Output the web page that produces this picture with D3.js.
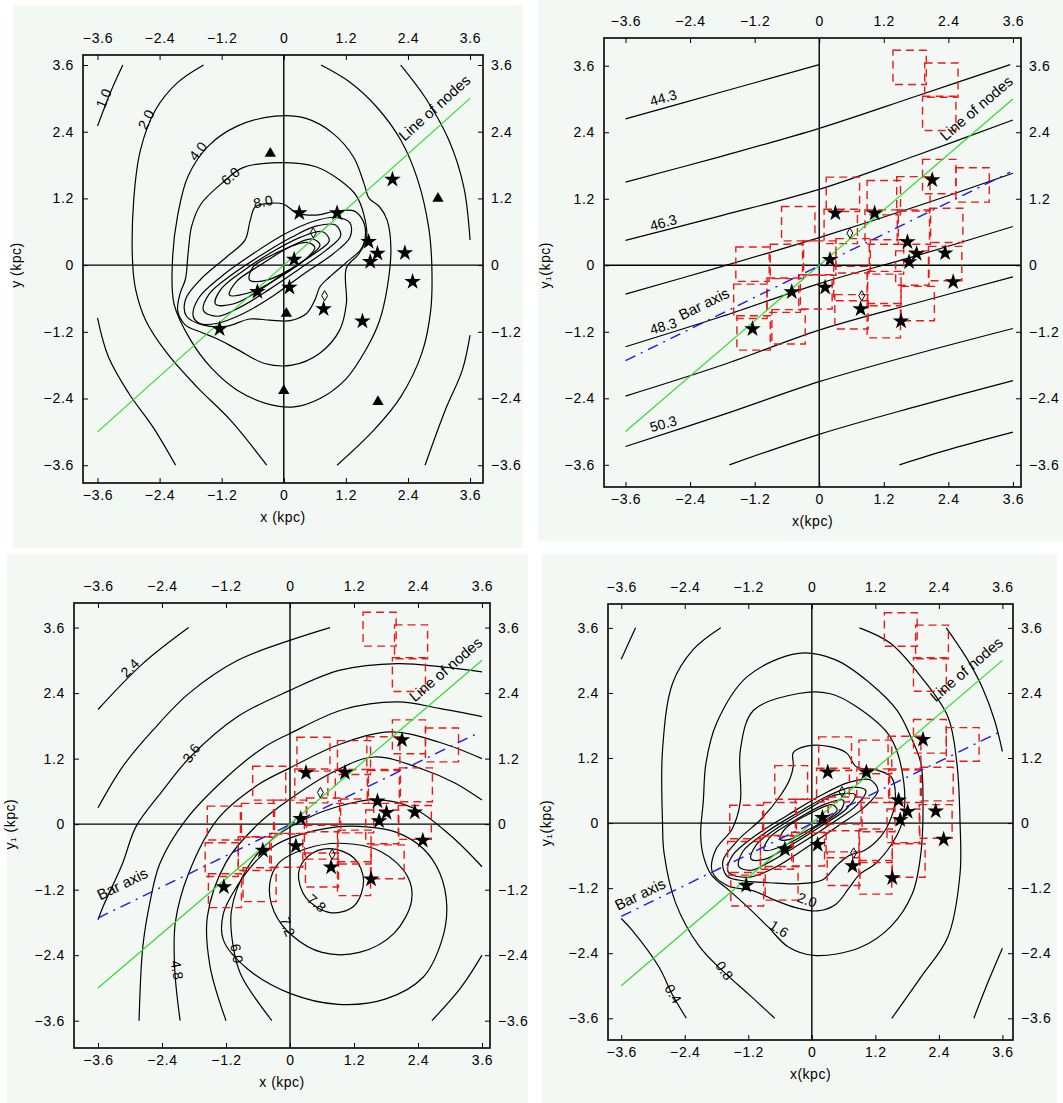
<!DOCTYPE html>
<html>
<head>
<meta charset="utf-8">
<script src="https://cdn.jsdelivr.net/npm/d3@7/dist/d3.min.js"></script>
<style>
  body { margin: 0; background: #fff; }
  svg { display: block; }
  text { font-family: "Liberation Sans", Arial, Helvetica, sans-serif; }
</style>
</head>
<body>
<svg id="chart" width="1063" height="1103"></svg>
<script>
// tick values used on all four sides of every panel
const ticks = [-3.6, -2.4, -1.2, 0, 1.2, 2.4, 3.6]
const tickLabels = ['\u22123.6', '\u22122.4', '\u22121.2', '0', '1.2', '2.4', '3.6']

// line of nodes and bar axis, kpc
const nodesLine = [[-3.6, -3.0], [3.6, 3.0]]
const barAxis = [[-3.6, -1.72], [3.55, 1.68]]

// objects, kpc
const stars = [
  [0.3, 0.94], [1.03, 0.94], [2.1, 1.54], [1.64, 0.42], [1.81, 0.21], [1.67, 0.06],
  [2.34, 0.22], [0.2, 0.1], [2.49, -0.3], [-0.51, -0.48], [0.11, -0.4], [0.77, -0.79],
  [1.52, -1.01], [-1.24, -1.15]
]
const triangles = [[-0.26, 2.01], [2.98, 1.2], [0.05, -0.87], [0.0, -2.26], [1.82, -2.46]]
const diamonds = [[0.57, 0.58], [0.79, -0.55]]

// centres of the dashed boxes, kpc
const boxCentres = [
  [0.44, 1.28], [1.2, 1.22], [2.23, 1.6], [2.85, 1.45], [1.75, 1.29],
  [-0.39, 0.75], [0.4, 0.7], [1.16, 0.69], [1.76, 0.69], [2.36, 0.72],
  [-1.24, 0.02], [-0.6, 0.07], [0.0, 0.13], [0.62, 0.17], [1.26, 0.15], [1.73, -0.05], [2.34, 0.03],
  [-1.28, -0.65], [-0.66, -0.54], [-0.07, -0.48], [0.58, -0.33], [1.21, -0.42], [1.83, -0.69],
  [0.6, -0.84], [1.2, -1.0], [-1.22, -1.22], [-0.57, -1.11],
  [1.68, 3.57], [2.27, 3.34], [2.23, 2.74]
]
const boxSide = 0.62

// panel 1 contours (surface density)
const contours1 = [
  { pts: [[-3.11, 3.6], [-3.33, 3.15], [-3.6, 2.5]] },
  { pts: [[-3.6, -0.95], [-3.39, -1.65], [-3.0, -2.3], [-2.53, -2.91], [-2.09, -3.6]] },
  { pts: [[2.26, 3.6], [2.73, 3.02], [3.19, 2.25], [3.48, 1.4], [3.6, 0.45]] },
  { pts: [[3.6, -1.26], [3.45, -1.89], [3.12, -2.61], [2.73, -3.6]] },
  { pts: [[-1.55, 3.6], [-2.07, 3.27], [-2.48, 2.79], [-2.77, 2.07], [-2.9, 1.17], [-2.92, 0.02], [-2.86, -0.45], [-2.67, -0.99], [-2.26, -1.58], [-1.68, -2.19], [-1.03, -2.79], [-0.33, -3.6]] },
  { pts: [[0.72, 3.6], [1.28, 3.29], [1.8, 2.84], [2.26, 2.25], [2.59, 1.53], [2.8, 0.68], [2.86, 0.02], [2.84, -0.81], [2.67, -1.58], [2.26, -2.37], [1.74, -2.97], [1.03, -3.6]] },
  { closed: true, pts: [[-0.17, 2.68], [0.43, 2.64], [0.95, 2.37], [1.35, 1.94], [1.55, 1.47], [1.65, 1.2], [1.85, 1.05], [2.0, 0.8], [2.07, 0.3], [2.0, -0.4], [1.85, -1.0], [1.6, -1.5], [1.2, -2.05], [0.7, -2.4], [0.2, -2.55], [-0.3, -2.5], [-0.9, -2.25], [-1.4, -1.85], [-1.8, -1.35], [-2.12, -0.7], [-2.15, 0.1], [-2.05, 0.9], [-1.85, 1.6], [-1.45, 2.15], [-0.9, 2.5]] },
  { closed: true, pts: [[-0.23, 1.84], [0.62, 1.77], [1.08, 1.53], [1.4, 1.25], [1.55, 0.9], [1.6, 0.5], [1.45, 0.2], [1.21, -0.05], [1.21, -0.69], [1.08, -1.17], [0.69, -1.59], [0.16, -1.8], [-0.37, -1.77], [-0.89, -1.52], [-1.3, -1.32], [-1.62, -1.2], [-1.9, -1.08], [-2.05, -0.82], [-2.0, -0.5], [-1.9, -0.25], [-1.85, 0.2], [-1.78, 0.7], [-1.6, 1.1], [-1.2, 1.47], [-0.8, 1.75]] },
  { closed: true, pts: [[-0.3, 1.11], [-0.01, 1.1], [0.25, 0.94], [0.63, 0.9], [0.95, 0.96], [1.34, 0.98], [1.5, 0.85], [1.58, 0.6], [1.5, 0.3], [1.21, 0.05], [0.89, -0.21], [0.7, -0.39], [0.6, -0.63], [0.44, -0.87], [0.12, -1.0], [-0.27, -0.99], [-0.66, -0.97], [-1.11, -1.1], [-1.55, -1.08], [-1.88, -0.92], [-1.9, -0.62], [-1.6, -0.25], [-1.1, 0.15], [-0.75, 0.45], [-0.65, 0.8], [-0.55, 1.05]] },
  { closed: true, pts: [[-1.75, -0.92], [-1.65, -0.6], [-1.2, -0.2], [-0.6, 0.2], [0.0, 0.55], [0.55, 0.78], [1.0, 0.86], [1.28, 0.76], [1.28, 0.5], [0.95, 0.2], [0.4, -0.15], [-0.2, -0.55], [-0.8, -0.88], [-1.3, -1.05], [-1.62, -1.05]] },
  { closed: true, pts: [[-1.55, -0.82], [-1.45, -0.53], [-1.0, -0.17], [-0.4, 0.2], [0.15, 0.5], [0.62, 0.7], [1.0, 0.72], [1.1, 0.53], [0.82, 0.27], [0.3, -0.07], [-0.3, -0.45], [-0.85, -0.76], [-1.28, -0.92]] },
  { closed: true, pts: [[-1.32, -0.7], [-1.22, -0.44], [-0.78, -0.1], [-0.2, 0.25], [0.32, 0.5], [0.75, 0.6], [0.88, 0.44], [0.58, 0.2], [0.05, -0.12], [-0.5, -0.47], [-0.98, -0.7]] },
  { closed: true, pts: [[-1.05, -0.54], [-0.92, -0.3], [-0.42, 0.02], [0.12, 0.33], [0.55, 0.47], [0.7, 0.36], [0.44, 0.12], [-0.05, -0.2], [-0.58, -0.47]] },
  { closed: true, pts: [[-0.66, -0.27], [-0.6, -0.04], [-0.14, 0.22], [0.44, 0.41], [0.6, 0.32], [0.46, 0.14], [0.1, -0.09], [-0.33, -0.27]] }
]
const labels1 = [
  { t: '1.0', at: [-3.48, 3.0], rot: -68 }, { t: '2.0', at: [-2.66, 2.62], rot: -62 },
  { t: '4.0', at: [-1.66, 2.05], rot: -52 }, { t: '6.0', at: [-1.03, 1.6], rot: -40 },
  { t: '8.0', at: [-0.4, 1.14], rot: -12 }
]

// panel 2 contours (velocity field)
const contours2 = [
  { pts: [[-3.6, 2.64], [-1.8, 3.13], [0, 3.62]] },
  { pts: [[-3.6, 1.5], [-1.8, 1.97], [0, 2.47], [1.8, 3.05], [3.55, 3.62]] },
  { pts: [[-3.6, 0.45], [-1.8, 0.9], [0, 1.37], [1.8, 1.98], [3.6, 2.62]] },
  { pts: [[-3.6, -0.52], [-1.8, -0.02], [0, 0.5], [1.8, 1.06], [3.6, 1.66]] },
  { pts: [[-3.6, -1.47], [-1.8, -0.92], [0, -0.33], [1.8, 0.17], [3.6, 0.7]] },
  { pts: [[-3.6, -2.36], [-1.8, -1.8], [0, -1.17], [1.8, -0.68], [3.6, -0.21]] },
  { pts: [[-3.6, -3.27], [-1.8, -2.7], [0, -2.1], [1.8, -1.6], [3.6, -1.14]] },
  { pts: [[-1.67, -3.6], [0, -3.05], [1.8, -2.55], [3.6, -2.08]] },
  { pts: [[1.49, -3.6], [2.5, -3.3], [3.6, -3.01]] }
]
const labels2 = [
  { t: '44.3', at: [-2.9, 3.02], rot: -16 }, { t: '46.3', at: [-2.9, 0.77], rot: -16 },
  { t: '48.3', at: [-2.9, -1.1], rot: -16 }, { t: '50.3', at: [-2.9, -2.86], rot: -16 }
]

// panel 3 contours
const contours3 = [
  { pts: [[-3.6, 2.1], [-2.76, 2.94], [-1.9, 3.6]] },
  { pts: [[-3.6, 0.3], [-3.14, 1.05], [-2.57, 1.72], [-1.9, 2.39], [-0.98, 3.0], [-0.02, 3.36], [0.75, 3.6]] },
  { pts: [[-3.6, -1.75], [-3.5, -1.5], [-3.14, -0.72], [-2.89, -0.05], [-2.4, 0.6], [-1.87, 1.23], [-0.98, 1.97], [0.0, 2.45], [0.94, 2.82], [2.02, 2.94], [2.85, 2.88], [3.6, 2.79]] },
  { pts: [[-2.83, -3.6], [-2.76, -2.25], [-2.63, -1.45], [-2.44, -0.72], [-1.96, 0.07], [-1.2, 0.85], [-0.5, 1.4], [0.0, 1.66], [1.0, 2.1], [2.02, 2.24], [2.8, 2.12], [3.6, 1.97]] },
  { pts: [[-2.06, -3.6], [-2.16, -2.67], [-2.15, -1.8], [-1.9, -0.9], [-1.35, 0.1], [-0.6, 0.72], [0.0, 1.03], [0.9, 1.45], [1.89, 1.69], [2.8, 1.5], [3.6, 1.2]] },
  { pts: [[-1.2, -3.6], [-1.5, -2.6], [-1.55, -1.7], [-1.2, -0.7], [-0.6, 0.0], [0.0, 0.46], [0.8, 0.95], [1.58, 1.23], [2.5, 1.0], [3.1, 0.75], [3.6, 0.44]] },
  { pts: [[-0.34, -3.6], [-0.9, -2.8], [-1.04, -2.37], [-1.1, -1.6], [-0.8, -0.8], [-0.3, -0.25], [0.3, 0.1], [1.0, 0.35], [1.6, 0.45], [2.3, 0.3], [3.0, -0.2], [3.6, -0.78]] },
  { pts: [[3.6, -2.4], [3.2, -3.0], [2.66, -3.6]] },
  { closed: true, pts: [[-1.25, -2.12], [-1.25, -1.64], [-1.0, -1.15], [-0.62, -0.66], [-0.3, -0.4], [0.1, -0.22], [0.88, -0.05], [1.44, -0.05], [2.0, -0.15], [2.5, -0.45], [2.81, -0.9], [2.94, -1.51], [2.85, -2.12], [2.5, -2.8], [1.8, -3.2], [0.9, -3.3], [0.0, -3.1], [-0.8, -2.65]] },
  { closed: true, pts: [[-0.38, -1.09], [-0.2, -0.7], [0.3, -0.45], [0.94, -0.35], [1.7, -0.5], [2.2, -0.95], [2.28, -1.4], [1.95, -2.0], [1.3, -2.35], [0.6, -2.35], [0.05, -2.05], [-0.3, -1.6]] },
  { closed: true, pts: [[0.75, -0.45], [0.35, -0.58], [0.16, -0.9], [0.3, -1.35], [0.75, -1.62], [1.2, -1.5], [1.38, -1.03], [1.2, -0.62]] }
]
const labels3 = [
  { t: '2.4', at: [-3.0, 2.86], rot: -45 }, { t: '3.6', at: [-1.85, 1.3], rot: -55 },
  { t: '4.8', at: [-2.12, -2.67], rot: 80 }, { t: '6.0', at: [-1.0, -2.37], rot: 80 },
  { t: '7.2', at: [-0.05, -1.88], rot: 70 }, { t: '7.8', at: [0.5, -1.45], rot: 40 }
]

// panel 4 contours
const contours4 = [
  { pts: [[-3.33, 3.6], [-3.6, 3.02]] },
  { pts: [[-3.6, -1.76], [-3.4, -1.97], [-2.89, -2.65], [-2.63, -3.17], [-2.37, -3.6]] },
  { pts: [[2.54, 3.6], [2.95, 3.0], [3.22, 2.5], [3.45, 1.9], [3.6, 1.32]] },
  { pts: [[3.6, -2.31], [3.3, -3.0], [3.06, -3.6]] },
  { pts: [[-1.72, 3.6], [-2.25, 3.19], [-2.63, 2.58], [-2.82, 1.35], [-2.82, 0], [-2.79, -0.56], [-2.57, -1.48], [-2.12, -2.28], [-1.67, -2.74], [-1.2, -3.15], [-0.7, -3.6]] },
  { pts: [[0.9, 3.6], [1.48, 3.32], [2.06, 2.7], [2.57, 1.96], [2.74, 1.1], [2.8, 0], [2.8, -0.93], [2.57, -2.1], [2.06, -2.84], [1.51, -3.6]] },
  { closed: true, pts: [[-0.25, 3.13], [0.45, 3.01], [1.1, 2.58], [1.61, 2.08], [1.87, 1.59], [2.06, 1.1], [2.1, 0.4], [2.06, -0.56], [1.9, -1.3], [1.5, -1.9], [0.9, -2.3], [0.04, -2.44], [-0.45, -2.28], [-0.83, -1.91], [-1.22, -1.54], [-1.55, -1.25], [-1.9, -0.95], [-2.05, -0.6], [-2.1, -0.2], [-2.05, 0.4], [-2.0, 1.1], [-1.8, 1.84], [-1.22, 2.7]] },
  { closed: true, pts: [[-0.25, 2.39], [0.33, 2.39], [0.84, 2.15], [1.48, 1.59], [1.74, 0.73], [1.7, 0], [1.5, -0.4], [1.2, -0.75], [0.9, -0.95], [0.7, -1.2], [0.45, -1.5], [0.1, -1.62], [-0.3, -1.56], [-0.7, -1.42], [-1.1, -1.25], [-1.6, -1.15], [-1.88, -0.9], [-1.82, -0.5], [-1.5, -0.1], [-1.35, 0.4], [-1.35, 1.35], [-1.1, 2.08]] },
  { closed: true, pts: [[-0.35, 1.05], [-0.35, 1.3], [-0.1, 1.42], [0.34, 1.41], [0.66, 1.29], [0.84, 1.04], [1.22, 0.98], [1.5, 0.85], [1.58, 0.5], [1.5, 0.1], [1.3, -0.25], [1.0, -0.5], [0.7, -0.6], [0.45, -0.8], [0.2, -1.05], [-0.3, -1.12], [-0.8, -1.1], [-1.25, -1.07], [-1.6, -0.98], [-1.68, -0.7], [-1.4, -0.32], [-0.95, 0.08], [-0.6, 0.5], [-0.42, 0.8]] },
  { closed: true, pts: [[-1.58, -0.9], [-1.5, -0.6], [-1.05, -0.22], [-0.45, 0.15], [0.15, 0.5], [0.7, 0.75], [1.1, 0.8], [1.25, 0.6], [1.0, 0.3], [0.5, -0.05], [-0.1, -0.45], [-0.7, -0.82], [-1.2, -1.0]] },
  { closed: true, pts: [[-1.38, -0.8], [-1.3, -0.52], [-0.85, -0.16], [-0.25, 0.2], [0.3, 0.5], [0.75, 0.66], [1.02, 0.6], [0.85, 0.33], [0.35, -0.02], [-0.25, -0.4], [-0.8, -0.72], [-1.15, -0.87]] },
  { closed: true, pts: [[-1.15, -0.66], [-1.05, -0.4], [-0.6, -0.06], [-0.05, 0.27], [0.45, 0.52], [0.82, 0.52], [0.65, 0.26], [0.15, -0.07], [-0.42, -0.42], [-0.9, -0.67]] },
  { closed: true, pts: [[-0.9, -0.5], [-0.8, -0.27], [-0.3, 0.06], [0.25, 0.35], [0.6, 0.42], [0.55, 0.24], [0.1, -0.06], [-0.45, -0.38]] },
  { closed: true, pts: [[-0.6, -0.3], [-0.5, -0.1], [-0.05, 0.17], [0.38, 0.34], [0.48, 0.24], [0.3, 0.08], [-0.1, -0.14], [-0.42, -0.3]] }
]
const labels4 = [
  { t: '2.0', at: [-0.09, -1.42], rot: 20 }, { t: '1.6', at: [-0.62, -1.95], rot: 32 },
  { t: '0.8', at: [-1.65, -2.72], rot: 55 }, { t: '0.4', at: [-2.62, -3.15], rot: 60 }
]

// where things go on the page
const panels = [
  { bg: [13, 5, 523, 548], frame: [83, 55, 483, 483], xd: [-3.88, 3.85], yd: [-3.92, 3.78], yTitleGap: 62,
    xTitle: 'x (kpc)', yTitle: 'y (kpc)', contours: contours1, labels: labels1, tri: true, boxes: false, bar: null },
  { bg: [538, 0, 1063, 541], frame: [604, 38, 1021, 487], xd: [-4.0, 3.75], yd: [-4.0, 4.1], yTitleGap: 54,
    xTitle: 'x(kpc)', yTitle: 'y\u2081(kpc)', contours: contours2, labels: labels2, tri: false, boxes: true, bar: [-2.1, -0.78] },
  { bg: [7, 554, 528, 1103], frame: [74, 603, 490, 1048], xd: [-4.05, 3.75], yd: [-4.1, 4.05], yTitleGap: 59,
    xTitle: 'x (kpc)', yTitle: 'y\u2081 (kpc)', contours: contours3, labels: labels3, tri: false, boxes: true, bar: [-3.1, -1.18] },
  { bg: [542, 554, 1057, 1103], frame: [608, 604, 1013, 1040], xd: [-3.85, 3.8], yd: [-4.0, 4.04], yTitleGap: 57,
    xTitle: 'x(kpc)', yTitle: 'y\u2081(kpc)', contours: contours4, labels: labels4, tri: false, boxes: true, bar: [-3.2, -1.4] }
]
const nodesLabelAt = [3.02, 2.72]

const svg = d3.select('#chart')

panels.forEach((p, i) => {
  const [fx0, fy0, fx1, fy1] = p.frame
  const x = d3.scaleLinear().domain(p.xd).range([fx0, fx1])
  const y = d3.scaleLinear().domain(p.yd).range([fy1, fy0])
  const g = svg.append('g')

  g.append('rect')
    .attr('x', p.bg[0]).attr('y', p.bg[1])
    .attr('width', p.bg[2] - p.bg[0]).attr('height', p.bg[3] - p.bg[1])
    .attr('fill', '#f4f8f4')

  svg.append('clipPath').attr('id', 'clip' + i)
    .append('rect').attr('x', fx0).attr('y', fy0).attr('width', fx1 - fx0).attr('height', fy1 - fy0)

  const body = g.append('g').attr('clip-path', `url(#clip${i})`)

  // zero lines
  body.append('line').attr('x1', fx0).attr('x2', fx1).attr('y1', y(0)).attr('y2', y(0))
    .attr('stroke', '#000').attr('stroke-width', 1.4)
  body.append('line').attr('x1', x(0)).attr('x2', x(0)).attr('y1', fy0).attr('y2', fy1)
    .attr('stroke', '#000').attr('stroke-width', 1.4)

  // contours
  const open = d3.line().x(d => x(d[0])).y(d => y(d[1])).curve(d3.curveCatmullRom.alpha(0.5))
  const closed = d3.line().x(d => x(d[0])).y(d => y(d[1])).curve(d3.curveCatmullRomClosed.alpha(0.5))
  body.selectAll('path.contour')
    .data(p.contours)
    .join('path')
    .attr('class', 'contour')
    .attr('d', c => (c.closed ? closed : open)(c.pts))
    .attr('fill', 'none')
    .attr('stroke', '#000')
    .attr('stroke-width', 1.2)

  // boxes
  if (p.boxes) {
    body.selectAll('rect.box')
      .data(boxCentres)
      .join('rect')
      .attr('class', 'box')
      .attr('x', d => x(d[0] - boxSide / 2))
      .attr('y', d => y(d[1] + boxSide / 2))
      .attr('width', d => x(d[0] + boxSide / 2) - x(d[0] - boxSide / 2))
      .attr('height', d => y(d[1] - boxSide / 2) - y(d[1] + boxSide / 2))
      .attr('fill', 'none')
      .attr('stroke', '#ea1a1a')
      .attr('stroke-width', 1.4)
      .attr('stroke-dasharray', '8,5')
  }

  // line of nodes
  const straight = d3.line().x(d => x(d[0])).y(d => y(d[1]))
  body.append('path').attr('d', straight(nodesLine))
    .attr('stroke', '#2ede2e').attr('stroke-width', 1.2).attr('fill', 'none')

  // bar axis
  if (p.bar) {
    body.append('path').attr('d', straight(barAxis))
      .attr('stroke', '#1a1aee').attr('stroke-width', 1.4).attr('fill', 'none')
      .attr('stroke-dasharray', '11,6,2,6')
  }

  // markers
  body.selectAll('path.star')
    .data(stars)
    .join('path')
    .attr('class', 'star')
    .attr('transform', d => `translate(${x(d[0])},${y(d[1])})`)
    .attr('d', d3.symbol(d3.symbolStar, 85))
    .attr('fill', '#000')

  if (p.tri) {
    body.selectAll('path.tri')
      .data(triangles)
      .join('path')
      .attr('class', 'tri')
      .attr('transform', d => `translate(${x(d[0])},${y(d[1])})`)
      .attr('d', d3.symbol(d3.symbolTriangle, 55))
      .attr('fill', '#000')
  }

  body.selectAll('path.dia')
    .data(diamonds)
    .join('path')
    .attr('class', 'dia')
    .attr('transform', d => `translate(${x(d[0])},${y(d[1])})`)
    .attr('d', d3.symbol(d3.symbolDiamond, 30))
    .attr('fill', 'none')
    .attr('stroke', '#000')
    .attr('stroke-width', 1)

  // contour labels
  body.selectAll('text.clab')
    .data(p.labels)
    .join('text')
    .attr('class', 'clab')
    .attr('transform', d => `translate(${x(d.at[0])},${y(d.at[1])}) rotate(${d.rot})`)
    .attr('text-anchor', 'middle')
    .attr('dy', '0.35em')
    .attr('font-size', 14)
    .text(d => d.t)

  // line of nodes label, along the line
  const nAng = Math.atan2(y(nodesLine[1][1]) - y(nodesLine[0][1]), x(nodesLine[1][0]) - x(nodesLine[0][0])) * 180 / Math.PI
  body.append('text')
    .attr('transform', `translate(${x(nodesLabelAt[0])},${y(nodesLabelAt[1])}) rotate(${nAng})`)
    .attr('text-anchor', 'middle')
    .attr('font-size', 15)
    .attr('dy', -3)
    .text('Line of nodes')

  if (p.bar) {
    const bAng = Math.atan2(y(barAxis[1][1]) - y(barAxis[0][1]), x(barAxis[1][0]) - x(barAxis[0][0])) * 180 / Math.PI
    body.append('text')
      .attr('transform', `translate(${x(p.bar[0])},${y(p.bar[1])}) rotate(${bAng})`)
      .attr('text-anchor', 'middle')
      .attr('font-size', 15)
      .text('Bar axis')
  }

  // frame
  g.append('rect').attr('x', fx0).attr('y', fy0).attr('width', fx1 - fx0).attr('height', fy1 - fy0)
    .attr('fill', 'none').attr('stroke', '#000').attr('stroke-width', 1.6)

  // axes, ticks pointing inwards
  const fmt = (d, k) => tickLabels[k]
  const styleAxis = a => a.call(s => s.select('.domain').remove())
    .call(s => s.selectAll('text').attr('font-size', 14).attr('letter-spacing', 0.7)
      .attr('font-family', '"Liberation Sans", Arial, sans-serif').attr('fill', '#000'))
    .call(s => s.selectAll('line').attr('stroke', '#000'))

  g.append('g').attr('transform', `translate(0,${fy0})`)
    .call(d3.axisTop(x).tickValues(ticks).tickFormat(fmt).tickSize(-5).tickPadding(12)).call(styleAxis)
  g.append('g').attr('transform', `translate(0,${fy1})`)
    .call(d3.axisBottom(x).tickValues(ticks).tickFormat(fmt).tickSize(-5).tickPadding(7)).call(styleAxis)
  g.append('g').attr('transform', `translate(${fx0},0)`)
    .call(d3.axisLeft(y).tickValues(ticks).tickFormat(fmt).tickSize(-5).tickPadding(9)).call(styleAxis)
  g.append('g').attr('transform', `translate(${fx1},0)`)
    .call(d3.axisRight(y).tickValues(ticks).tickFormat(fmt).tickSize(-5).tickPadding(8)).call(styleAxis)

  // axis titles
  g.append('text')
    .attr('x', (fx0 + fx1) / 2).attr('y', fy1 + 39)
    .attr('text-anchor', 'middle').attr('font-size', 14).attr('letter-spacing', 0.5)
    .text(p.xTitle)
  g.append('text')
    .attr('transform', `translate(${fx0 - p.yTitleGap},${y(0)}) rotate(-90)`)
    .attr('text-anchor', 'middle').attr('font-size', 14).attr('letter-spacing', 0.5)
    .text(p.yTitle)
})
</script>
</body>
</html>
